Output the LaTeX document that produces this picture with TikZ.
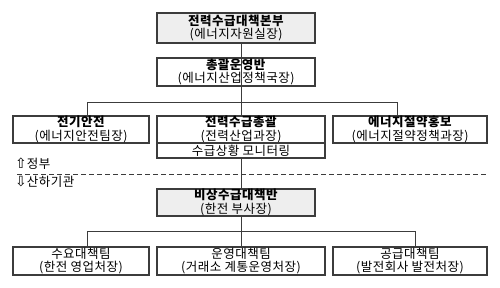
\documentclass[tikz,border=0pt]{standalone}
\usepackage{fontspec}
\usepackage{tikz}
\setmainfont{Noto Sans CJK KR}[LetterSpace=4]
\newfontfamily\symfont{DejaVu Sans}
\definecolor{orgline}{RGB}{60,60,60}
\definecolor{orgfill}{RGB}{238,238,238}
\tikzset{
  orgbox/.style={draw=orgline, line width=1.2pt, align=center, inner sep=0pt,
    font=\fontsize{12.5}{13.5}\selectfont},
  headbox/.style={orgbox, fill=orgfill},
  wire/.style={orgline, line width=0.9pt},
  sidelabel/.style={anchor=west, inner sep=0pt, font=\fontsize{12.5}{13.5}\selectfont}
}

\begin{document}
\begin{tikzpicture}[x=1pt, y=-1pt]
  \useasboundingbox (0,0) rectangle (500,287);
  % Top: headquarters and operations
  \node[headbox, minimum width=158pt, minimum height=30pt] (hq) at (236,28)
    {\textbf{전력수급대책본부}\\(에너지자원실장)};
  \node[orgbox, minimum width=158pt, minimum height=28pt] (ops) at (236,72)
    {\textbf{총괄운영반}\\(에너지산업정책국장)};
  % Ministry teams
  \node[orgbox, minimum width=136pt, minimum height=27pt] (elec) at (81,129.5)
    {\textbf{전기안전}\\(에너지안전팀장)};
  \node[orgbox, minimum width=168pt, minimum height=27pt] (supply) at (241,129.5)
    {\textbf{전력수급총괄}\\(전력산업과장)};
  \node[orgbox, minimum width=168pt, minimum height=15pt] (monitor) at (241,150.5)
    {수급상황 모니터링};
  \node[orgbox, minimum width=154pt, minimum height=27pt] (save) at (410,129.5)
    {\textbf{에너지절약홍보}\\(에너지절약정책과장)};
  % Government / affiliated boundary
  \node[sidelabel] (gov) at (15,164) {{\symfont\fontsize{14}{14}\selectfont ⇧}정부};
  \node[sidelabel] (agency) at (15,182) {{\symfont\fontsize{14}{14}\selectfont ⇩}산하기관};
  \coordinate (dl) at (17,174);
  \coordinate (dr) at (487,174);
  \draw[orgline, line width=0.9pt, dash pattern=on 5pt off 3pt] (dl) -- (dr);
  % Emergency team and its units
  \node[headbox, minimum width=158pt, minimum height=27pt] (emerg) at (236,202.5)
    {\textbf{비상수급대책반}\\(한전 부사장)};
  \node[orgbox, minimum width=136pt, minimum height=28pt] (demand) at (81,261)
    {수요대책팀\\(한전 영업처장)};
  \node[orgbox, minimum width=168pt, minimum height=28pt] (market) at (241,261)
    {운영대책팀\\(거래소 계통운영처장)};
  \node[orgbox, minimum width=154pt, minimum height=28pt] (gen) at (410,261)
    {공급대책팀\\(발전회사 발전처장)};
  % Connectors
  \coordinate (tl) at (87,102);
  \coordinate (tr) at (397,102);
  \coordinate (bl) at (87,231);
  \coordinate (br) at (415,231);
  \draw[wire] (hq.south -| supply) -- (ops.south -| supply);
  \draw[wire] (ops.south -| supply) -- (supply.north);
  \draw[wire] (tl |- elec.north) -- (tl) -- (tr) -- (tr |- save.north);
  \draw[wire] (monitor.south) -- (emerg.north -| monitor);
  \draw[wire] (emerg.south -| market) -- (market.north);
  \draw[wire] (bl |- demand.north) -- (bl) -- (br) -- (br |- gen.north);
\end{tikzpicture}
\end{document}
